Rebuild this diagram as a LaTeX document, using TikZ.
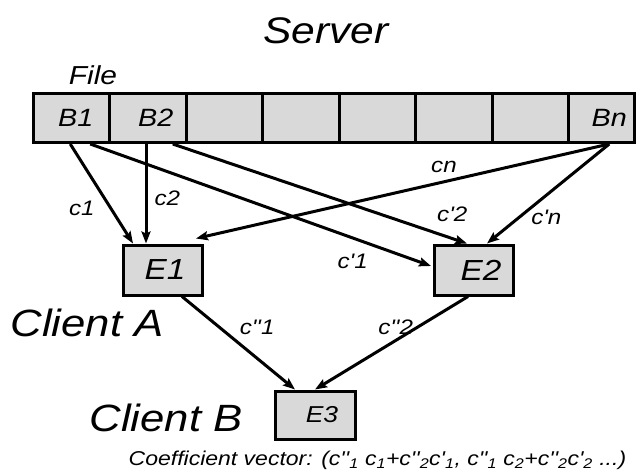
\documentclass[tikz,border=0pt]{standalone}
\usepackage{fontspec}
\newfontfamily\figfont{Liberation Sans}[FakeStretch=1.15]
\usetikzlibrary{arrows.meta}
\definecolor{cellgray}{gray}{0.85}
\newcommand{\fsz}[1]{\fontsize{#1}{#1}\selectfont}
\tikzstyle{every node}=[font=\figfont\itshape]
\tikzstyle{block}=[draw,line width=3pt,fill=cellgray,inner sep=0pt]
\tikzstyle{cell}=[block,minimum width=76.5pt,minimum height=49pt,font=\figfont\itshape\fsz{25}]
\tikzstyle{enc}=[block,minimum width=79pt,minimum height=50pt,font=\figfont\itshape\fsz{29}]
\tikzstyle{lbl}=[inner sep=1pt,font=\figfont\itshape\fsz{21}]

\begin{document}
\begin{tikzpicture}[x=1pt,y=-1pt,line width=3pt,>={Stealth[length=12pt,width=9pt,inset=2pt]}]
			\useasboundingbox (0,0) rectangle (637,476);
			\node[font=\figfont\itshape\fsz{37}] (server) at (326,31) {Server};
			\node[font=\figfont\itshape\fsz{26}] (file)   at (93,75)  {File};
			\node[cell] (b1) at (71.25,118)  {\hspace*{9pt}B1};
			\node[cell] (b2) at (147.75,118) {\hspace*{16pt}B2};
			\node[cell] (b3) at (224.25,118) {};
			\node[cell] (b4) at (300.75,118) {};
			\node[cell] (b5) at (377.25,118) {};
			\node[cell] (b6) at (453.75,118) {};
			\node[cell] (b7) at (530.25,118) {};
			\node[cell,minimum width=65.5pt] (bn) at (601.25,118) {\hspace*{16pt}Bn};
			\node[enc] (e1) at (163,270) {\hspace*{4pt}E1};
			\node[enc] (e2) at (474,270) {\hspace*{14pt}E2};
			\node[enc,minimum width=80pt,minimum height=48pt,font=\figfont\itshape\fsz{23}] (e3) at (315,415) {\hspace*{14pt}E3};
			\node[font=\figfont\itshape\fsz{38}] (clientA) at (87,323)  {Client A};
			\node[font=\figfont\itshape\fsz{38}] (clientB) at (166,418) {Client B};
			\node[font=\figfont\itshape\fsz{20},anchor=east] (coef) at (631,460)
			{Coefficient vector: (c''\textsubscript{1} c\textsubscript{1}+c''\textsubscript{2}c'\textsubscript{1}, c''\textsubscript{1} c\textsubscript{2}+c''\textsubscript{2}c'\textsubscript{2} ...)};
			\path[->]
			([xshift=-1pt]b1.south)     edge node[lbl,pos=0.65,left=14pt]  {c1}     ([xshift=-30pt]e1.north)
			([xshift=19pt]b1.south)     edge node[lbl,pos=0.77,below=14pt] {c'1}    ([yshift=4pt,xshift=-2pt]e2.west)
			([xshift=-1.75pt]b2.south)  edge node[lbl,pos=0.55,right=6pt]  {c2}     ([xshift=-17pt]e1.north)
			([xshift=25pt]b2.south)     edge node[lbl,pos=0.95,above=14pt] {c'2}    ([xshift=-7pt]e2.north)
			([xshift=8pt]bn.south)      edge node[lbl,pos=0.40,above=7pt]  {cn}     ([xshift=33pt,yshift=5pt]e1.north)
			([xshift=8pt]bn.south)      edge node[lbl,pos=0.74,right=10pt] {c'n}    ([xshift=13pt]e2.north)
			([xshift=19pt]e1.south)     edge node[lbl,pos=0.33,right=18pt] {c''1}   ([xshift=-20pt]e3.north)
			([xshift=-6pt]e2.south)     edge node[lbl,pos=0.33,left=2pt]   {c''2}   (e3.north);
		\end{tikzpicture}
\end{document}
